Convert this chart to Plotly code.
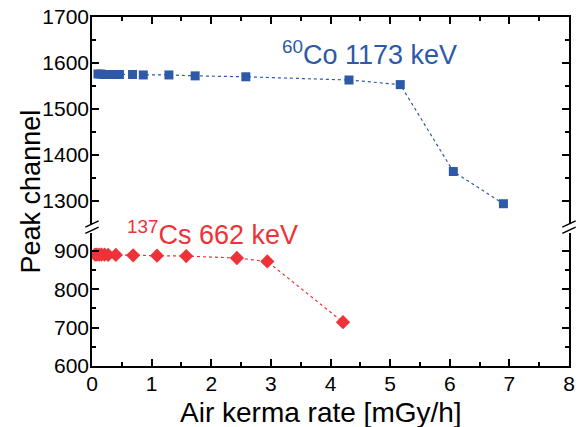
import plotly.graph_objects as go

co_x = [0.10, 0.15, 0.20, 0.25, 0.30, 0.38, 0.46, 0.68, 0.86, 1.29, 1.73, 2.58, 4.31, 5.17, 6.06, 6.90]
co_y = [1576, 1576, 1575, 1575, 1575, 1575, 1575, 1575, 1574, 1574, 1572, 1570, 1563, 1553, 1364, 1294]

cs_x = [0.05, 0.08, 0.12, 0.16, 0.21, 0.27, 0.40, 0.69, 1.09, 1.58, 2.43, 2.94, 4.21]
cs_y = [890, 890, 890, 890, 890, 889, 889, 888, 887, 886, 881, 872, 714]

x_ticks = [0, 1, 2, 3, 4, 5, 6, 7, 8]
low_ticks = [600, 700, 800, 900]
high_ticks = [1300, 1400, 1500, 1600, 1700]

BLUE = "#2D59A8"
RED = "#EE3338"
FONT = "Liberation Sans, Arial, sans-serif"

fig = go.Figure()
fig.add_trace(go.Scatter(x=co_x, y=co_y, xaxis="x2", yaxis="y2", mode="lines+markers",
                         line=dict(color=BLUE, width=1.2, dash="dot"),
                         marker=dict(symbol="square", size=9, color=BLUE)))
fig.add_trace(go.Scatter(x=cs_x, y=cs_y, xaxis="x", yaxis="y", mode="lines+markers",
                         line=dict(color=RED, width=1.2, dash="dot"),
                         marker=dict(symbol="diamond", size=11, color=RED)))

axis_common = dict(showline=True, linecolor="black", linewidth=1.5, ticks="inside",
                   ticklen=7, tickwidth=1.5, tickcolor="black", showgrid=False, zeroline=False,
                   automargin=False,
                   tickfont=dict(family=FONT, size=21, color="black"))
minor_common = dict(ticks="inside", ticklen=4, tickcolor="black", tickwidth=1.5)

fig.update_layout(
    width=579, height=427,
    margin=dict(l=92, r=10, t=17, b=61),
    paper_bgcolor="white", plot_bgcolor="white",
    showlegend=False,
    font=dict(family=FONT, color="black"),
    xaxis=dict(**axis_common, range=[0, 8], tickvals=x_ticks, anchor="y", side="bottom",
               ticklabelstandoff=-2,
               minor=dict(dtick=0.5, **minor_common)),
    xaxis2=dict(**axis_common, range=[0, 8], tickvals=x_ticks, anchor="y2", side="top",
                matches="x", showticklabels=False, overlaying="x",
                minor=dict(dtick=0.5, **minor_common)),
    yaxis=dict(**axis_common, range=[600, 946], tickvals=low_ticks, domain=[0, 0.381],
               anchor="x", mirror="ticks", ticklabelstandoff=-3,
               minor=dict(dtick=50, **minor_common)),
    yaxis2=dict(**axis_common, range=[1250, 1700], tickvals=high_ticks, domain=[0.407, 1],
                anchor="x2", mirror="ticks", ticklabelstandoff=-3,
                minor=dict(dtick=50, **minor_common)),
)

fig.add_annotation(xref="paper", yref="paper", x=-0.128, y=0.5, text="Peak channel",
                   textangle=-90, showarrow=False, font=dict(family=FONT, size=27, color="black"),
                   xanchor="center", yanchor="middle")
fig.add_annotation(xref="paper", yref="paper", x=0.481, y=-0.133, text="Air kerma rate [mGy/h]",
                   showarrow=False, font=dict(family=FONT, size=28, color="black"),
                   xanchor="center", yanchor="middle")

fig.add_annotation(xref="x2", yref="y2", x=3.15, y=1622, text="<sup>60</sup>Co 1173 keV",
                   showarrow=False, xanchor="left", yanchor="middle",
                   font=dict(family=FONT, size=27, color=BLUE))
fig.add_annotation(xref="x", yref="y", x=0.55, y=946, text="<sup>137</sup>Cs 662 keV",
                   showarrow=False, xanchor="left", yanchor="middle",
                   font=dict(family=FONT, size=27, color=RED))

# axis break marks
for xp in (0.0, 1.0):
    for yp in (0.389, 0.407):
        fig.add_shape(type="line", xref="paper", yref="paper",
                      x0=xp - 0.014, y0=yp - 0.009, x1=xp + 0.014, y1=yp + 0.009,
                      line=dict(color="black", width=1.5))

fig.write_html("out.html")
